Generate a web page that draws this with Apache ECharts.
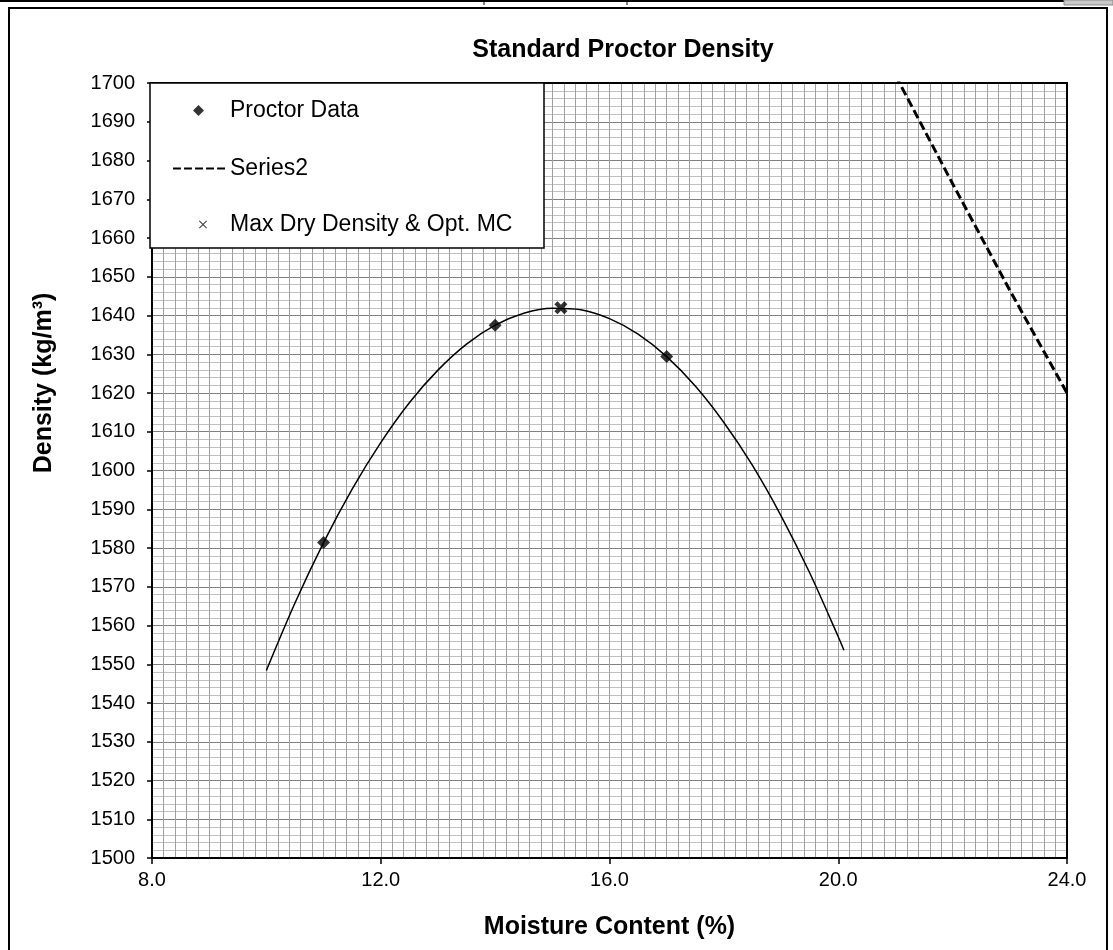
<!DOCTYPE html>
<html>
<head>
<meta charset="utf-8">
<title>Standard Proctor Density</title>
<script src="https://cdn.jsdelivr.net/npm/echarts@6/dist/echarts.min.js"></script>
<style>
html, body { margin: 0; padding: 0; background: #fff; }
#main { width: 1113px; height: 950px; }
</style>
</head>
<body>
<div id="main"></div>
<script>
// values
const proctorMC = [11.0, 14.0, 17.0]
const proctorDensity = [1581.4, 1637.5, 1629.4]
const optMC = [15.15]
const maxDryDensity = [1642.0]
// fitted curve, read along its length
const fitMC = [10.0, 10.5, 11.0, 11.5, 12.0, 12.5, 13.0, 13.5, 14.0, 14.5, 15.0,
    15.5, 16.0, 16.5, 17.0, 17.5, 18.0, 18.5, 19.0, 19.5, 20.0, 20.1]
const fitDensity = [1548.4, 1565.8, 1581.4, 1595.2, 1607.2, 1617.5, 1625.9, 1632.6, 1637.5, 1640.6, 1641.9,
    1641.5, 1639.2, 1635.2, 1629.4, 1621.8, 1612.4, 1601.3, 1588.3, 1573.6, 1557.1, 1553.6]
// Series2 (dashed, runs off the top of the plot)
const series2MC = [20.0, 21.0, 22.0, 23.0, 24.0]
const series2Density = [1732, 1702, 1674, 1646.5, 1620]
// axis ticks
const xTicks = [8.0, 12.0, 16.0, 20.0, 24.0]
const yTicks = [1500, 1510, 1520, 1530, 1540, 1550, 1560, 1570, 1580, 1590, 1600,
    1610, 1620, 1630, 1640, 1650, 1660, 1670, 1680, 1690, 1700]

const FONT = '"Liberation Sans", Arial, sans-serif'
const boldX = 'path://M0,2.4L2.4,0L5,2.6L7.6,0L10,2.4L7.4,5L10,7.6L7.6,10L5,7.4L2.4,10L0,7.6L2.6,5Z'
const thinX = 'path://M0,0.8L0.8,0L5,4.2L9.2,0L10,0.8L5.8,5L10,9.2L9.2,10L5,5.8L0.8,10L0,9.2L4.2,5Z'
const dashIcon = 'path://M0,0h7.6v2h-7.6zM10.6,0h7.6v2h-7.6zM21.2,0h7.6v2h-7.6zM31.8,0h7.6v2h-7.6zM42.4,0h7.6v2h-7.6z'

function zip(xs, ys) {
    return xs.map((x, i) => [x, ys[i]])
}

let myChart = echarts.init(document.getElementById('main'))

let legendText = { fontFamily: FONT, fontSize: 23, color: '#000' }

myChart.setOption({
    backgroundColor: '#fff',
    animation: false,
    title: {
        text: 'Standard Proctor Density',
        left: 618,
        textAlign: 'center',
        top: 33,
        textStyle: { fontFamily: FONT, fontSize: 25, fontWeight: 'bold', color: '#000' }
    },
    grid: { left: 152, right: 46, top: 83, bottom: 92, outerBoundsMode: 'none' },
    legend: [{
        data: ['Proctor Data'],
        left: 193, top: 99, padding: 0,
        itemWidth: 11, itemHeight: 11,
        selectedMode: false,
        textStyle: Object.assign({ padding: [0, 0, 0, 21] }, legendText)
    }, {
        data: [{ name: 'Series2', icon: dashIcon }],
        left: 173, top: 157, padding: 0,
        itemWidth: 52, itemHeight: 2.5,
        selectedMode: false,
        textStyle: legendText
    }, {
        data: [{ name: 'Max Dry Density & Opt. MC', icon: thinX }],
        left: 199, top: 213, padding: 0,
        itemWidth: 8, itemHeight: 8,
        selectedMode: false,
        textStyle: Object.assign({ padding: [0, 0, 0, 18] }, legendText)
    }],
    xAxis: [{
        type: 'value',
        min: xTicks[0],
        max: xTicks[xTicks.length - 1],
        interval: xTicks[1] - xTicks[0],
        name: 'Moisture Content (%)',
        nameLocation: 'middle',
        nameGap: 57,
        nameTextStyle: { fontFamily: FONT, fontSize: 25, fontWeight: 'bold', color: '#000' },
        axisLine: { onZero: false, lineStyle: { color: '#000', width: 2 } },
        axisTick: { show: true, length: 6, lineStyle: { color: '#000', width: 1.5 } },
        axisLabel: {
            margin: 12,
            fontFamily: FONT, fontSize: 20, color: '#000',
            formatter: v => v.toFixed(1)
        },
        splitLine: { show: true, lineStyle: { color: '#a0a0a0', width: 1 } },
        minorTick: { show: false, splitNumber: 20 },
        minorSplitLine: { show: true, lineStyle: { color: '#a0a0a0', width: 1 } }
    }, {
        // top border
        type: 'value', position: 'top',
        min: xTicks[0], max: xTicks[xTicks.length - 1],
        axisLine: { show: true, onZero: false, lineStyle: { color: '#000', width: 2 } },
        axisTick: { show: false }, axisLabel: { show: false }, splitLine: { show: false }
    }],
    yAxis: [{
        type: 'value',
        min: yTicks[0],
        max: yTicks[yTicks.length - 1],
        interval: yTicks[1] - yTicks[0],
        axisLine: { show: true, onZero: false, lineStyle: { color: '#000', width: 2 } },
        axisTick: { show: true, length: 5, lineStyle: { color: '#000', width: 1.5 } },
        axisLabel: {
            margin: 17,
            fontFamily: FONT, fontSize: 20, color: '#000',
            formatter: v => String(v)
        },
        splitLine: { show: true, lineStyle: { color: '#808080', width: 1 } },
        minorTick: { show: false, splitNumber: 5 },
        minorSplitLine: { show: true, lineStyle: { color: '#c0c0c0', width: 1 } }
    }, {
        // right border
        type: 'value', position: 'right',
        min: yTicks[0], max: yTicks[yTicks.length - 1],
        axisLine: { show: true, onZero: false, lineStyle: { color: '#000', width: 2 } },
        axisTick: { show: false }, axisLabel: { show: false }, splitLine: { show: false }
    }],
    graphic: [
        // sheet edge bits above the chart
        { type: 'line', z: 0, shape: { x1: 0, y1: 1, x2: 1113, y2: 1 }, style: { stroke: '#000', lineWidth: 2 } },
        { type: 'line', z: 0, shape: { x1: 484, y1: 0, x2: 484, y2: 5 }, style: { stroke: '#000', lineWidth: 1 } },
        { type: 'line', z: 0, shape: { x1: 627, y1: 0, x2: 627, y2: 5 }, style: { stroke: '#000', lineWidth: 1 } },
        { type: 'rect', z: 0, shape: { x: 1064, y: 0, width: 49, height: 5 }, style: { fill: '#c8c8c8', stroke: '#888', lineWidth: 1 } },
        // chart area frame
        { type: 'rect', z: 0, shape: { x: 9, y: 8, width: 1098, height: 960 }, style: { fill: null, stroke: '#000', lineWidth: 2 } },
        // legend box
        { type: 'rect', z: 3, shape: { x: 150, y: 83, width: 394, height: 165 }, style: { fill: '#fff', stroke: '#000', lineWidth: 1.5 } },
        // y axis title
        {
            type: 'text', z: 3, x: 44, y: 383, rotation: Math.PI / 2,
            style: {
                text: 'Density (kg/m³)',
                font: 'bold 25px ' + FONT,
                fill: '#000',
                align: 'center',
                verticalAlign: 'middle'
            }
        }
    ],
    series: [{
        name: 'Fit',
        type: 'line',
        data: zip(fitMC, fitDensity),
        smooth: 0.3,
        showSymbol: false,
        symbol: 'none',
        lineStyle: { color: '#000', width: 1.5 },
        z: 2
    }, {
        name: 'Series2',
        type: 'line',
        data: zip(series2MC, series2Density),
        showSymbol: false,
        symbol: 'none',
        color: '#000',
        lineStyle: { color: '#000', width: 3, type: [9, 4] },
        z: 2
    }, {
        name: 'Proctor Data',
        type: 'scatter',
        data: zip(proctorMC, proctorDensity),
        symbol: 'diamond',
        symbolSize: 13,
        itemStyle: { color: '#000' },
        z: 3
    }, {
        name: 'Max Dry Density & Opt. MC',
        type: 'scatter',
        data: zip(optMC, maxDryDensity),
        symbol: boldX,
        symbolSize: 13,
        itemStyle: { color: '#000' },
        z: 3
    }]
})
</script>
</body>
</html>
